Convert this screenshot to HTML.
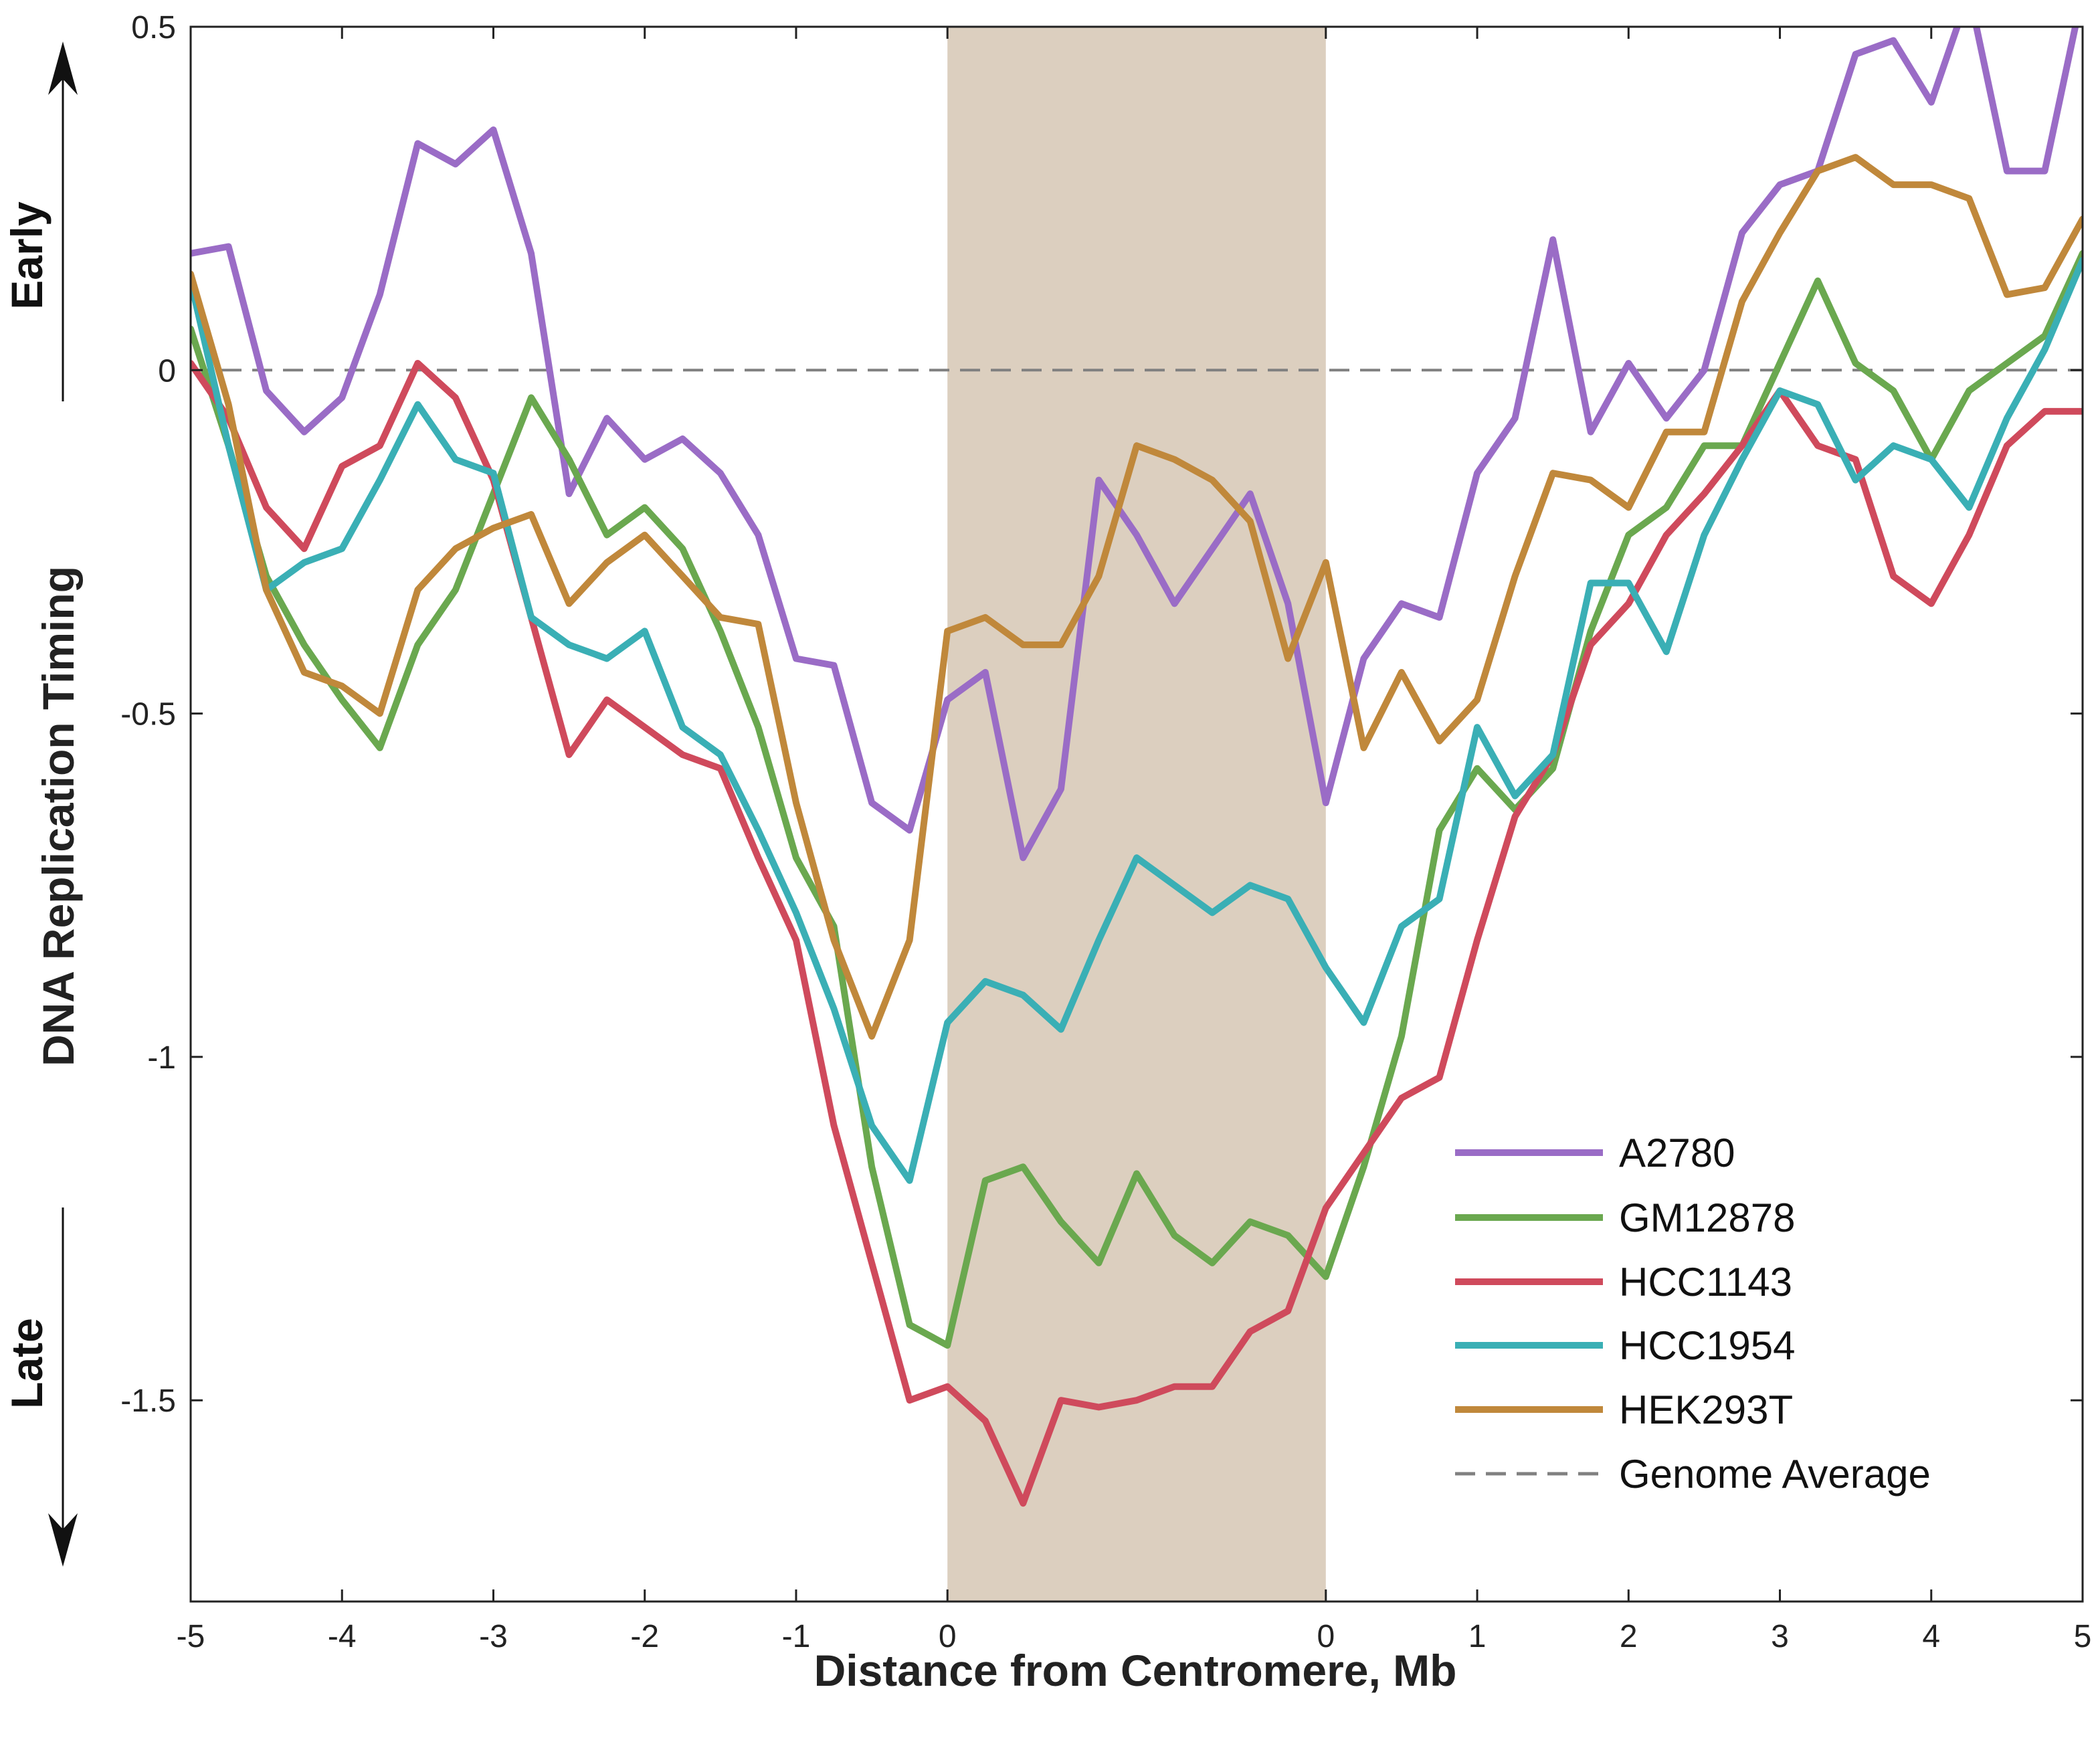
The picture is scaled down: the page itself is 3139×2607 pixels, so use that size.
<!DOCTYPE html>
<html><head><meta charset="utf-8"><style>
html,body{margin:0;padding:0;background:#fff}
svg{display:block;font-family:"Liberation Sans",sans-serif}
</style></head><body>
<svg id="chart" width="3139" height="2607" viewBox="0 0 3139 2607" xmlns="http://www.w3.org/2000/svg"></svg>
<script>
// positions along plot (units: Mb-like; 0..5 left arm, 5..7.5 centromere, 7.5..12.5 right arm)
const positions = [];
for (let i = 0; i <= 50; i++) positions.push(i * 0.25);
const xTickLabels = ["-5","-4","-3","-2","-1","0","0","1","2","3","4","5"];
const xTickPos = [0,1,2,3,4,5,7.5,8.5,9.5,10.5,11.5,12.5];
const yTicks = [0.5,0,-0.5,-1,-1.5];
const yTickLabels = ["0.5","0","-0.5","-1","-1.5"];
const seriesNames = ["A2780","GM12878","HCC1143","HCC1954","HEK293T"];
const a2780 = [0.17,0.18,-0.03,-0.09,-0.04,0.11,0.33,0.30,0.35,0.17,-0.18,-0.07,-0.13,-0.10,-0.15,-0.24,-0.42,-0.43,-0.63,-0.67,-0.48,-0.44,-0.71,-0.61,-0.16,-0.24,-0.34,-0.26,-0.18,-0.34,-0.63,-0.42,-0.34,-0.36,-0.15,-0.07,0.19,-0.09,0.01,-0.07,0.0,0.20,0.27,0.29,0.46,0.48,0.39,0.55,0.29,0.29,0.55];
const gm12878 = [0.06,-0.11,-0.30,-0.40,-0.48,-0.55,-0.40,-0.32,-0.18,-0.04,-0.13,-0.24,-0.20,-0.26,-0.38,-0.52,-0.71,-0.81,-1.16,-1.39,-1.42,-1.18,-1.16,-1.24,-1.30,-1.17,-1.26,-1.30,-1.24,-1.26,-1.32,-1.16,-0.97,-0.67,-0.58,-0.64,-0.58,-0.38,-0.24,-0.20,-0.11,-0.11,0.01,0.13,0.01,-0.03,-0.13,-0.03,0.01,0.05,0.17];
const hcc1143 = [0.01,-0.07,-0.20,-0.26,-0.14,-0.11,0.01,-0.04,-0.16,-0.36,-0.56,-0.48,-0.52,-0.56,-0.58,-0.71,-0.83,-1.10,-1.30,-1.50,-1.48,-1.53,-1.65,-1.50,-1.51,-1.50,-1.48,-1.48,-1.40,-1.37,-1.22,-1.14,-1.06,-1.03,-0.83,-0.65,-0.56,-0.40,-0.34,-0.24,-0.18,-0.11,-0.03,-0.11,-0.13,-0.30,-0.34,-0.24,-0.11,-0.06,-0.06];
const hcc1954 = [0.13,-0.11,-0.32,-0.28,-0.26,-0.16,-0.05,-0.13,-0.15,-0.36,-0.40,-0.42,-0.38,-0.52,-0.56,-0.67,-0.79,-0.93,-1.10,-1.18,-0.95,-0.89,-0.91,-0.96,-0.83,-0.71,-0.75,-0.79,-0.75,-0.77,-0.87,-0.95,-0.81,-0.77,-0.52,-0.62,-0.56,-0.31,-0.31,-0.41,-0.24,-0.13,-0.03,-0.05,-0.16,-0.11,-0.13,-0.20,-0.07,0.03,0.16];
const hek293t = [0.14,-0.05,-0.32,-0.44,-0.46,-0.50,-0.32,-0.26,-0.23,-0.21,-0.34,-0.28,-0.24,-0.30,-0.36,-0.37,-0.63,-0.83,-0.97,-0.83,-0.38,-0.36,-0.40,-0.40,-0.30,-0.11,-0.13,-0.16,-0.22,-0.42,-0.28,-0.55,-0.44,-0.54,-0.48,-0.30,-0.15,-0.16,-0.20,-0.09,-0.09,0.10,0.20,0.29,0.31,0.27,0.27,0.25,0.11,0.12,0.22];
const allSeries = [a2780,gm12878,hcc1143,hcc1954,hek293t];
const colors = ["#9a6cc6","#6aa84f","#cf4a5c","#3aafb5","#c0883b"];

const L=285,R=3113,T=40,B=2394;
const yMax=0.5,yMin=-1.793;
const sx = u => L + (u/12.5)*(R-L);
const sy = v => T + (yMax - v)/(yMax-yMin)*(B-T);
const NS="http://www.w3.org/2000/svg";
const svg=document.getElementById('chart');
function mk(tag,attrs,parent){const e=document.createElementNS(NS,tag);for(const k in attrs)e.setAttribute(k,attrs[k]);(parent||svg).appendChild(e);return e;}

const defs=mk('defs',{});
const cp=mk('clipPath',{id:'plotclip'},defs);
mk('rect',{x:L,y:T,width:R-L,height:B-T},cp);

const cen=mk('rect',{x:sx(5),y:T,width:sx(7.5)-sx(5),height:B-T,fill:"#dccfbf"});



const zl=mk('line',{x1:L,x2:R,y1:sy(0),y2:sy(0),stroke:"#808080","stroke-width":4,"stroke-dasharray":"30 16"});



const g=mk('g',{'clip-path':'url(#plotclip)'});
allSeries.forEach((vals,si)=>{
  const d=vals.map((v,i)=>(i?'L':'M')+sx(positions[i]).toFixed(1)+','+sy(v).toFixed(1)).join(' ');
  const p=mk('path',{d:d,fill:'none',stroke:colors[si],'stroke-width':10,'stroke-linejoin':'round','stroke-linecap':'round'},g);
  
  
});

const frame=mk('rect',{x:L,y:T,width:R-L,height:B-T,fill:'none',stroke:'#222','stroke-width':3});



xTickPos.forEach((u,i)=>{
  const x=sx(u);
  mk('line',{x1:x,x2:x,y1:B,y2:B-18,stroke:'#222','stroke-width':3});
  mk('line',{x1:x,x2:x,y1:T,y2:T+18,stroke:'#222','stroke-width':3});
  const t=mk('text',{x:x,y:B+68,'text-anchor':'middle','font-size':48,fill:'#222'});
  t.textContent=xTickLabels[i];
  
  
});
yTicks.forEach((v,i)=>{
  const y=sy(v);
  mk('line',{x1:L,x2:L+18,y1:y,y2:y,stroke:'#222','stroke-width':3});
  mk('line',{x1:R,x2:R-18,y1:y,y2:y,stroke:'#222','stroke-width':3});
  const t=mk('text',{x:L-22,y:y+17,'text-anchor':'end','font-size':48,fill:'#222'});
  t.textContent=yTickLabels[i];
  
  
});

const xt=mk('text',{x:1697,y:2520,'text-anchor':'middle','font-size':66,'font-weight':'bold',fill:'#222'});
xt.textContent='Distance from Centromere, Mb';


const yt=mk('text',{x:0,y:0,'text-anchor':'middle','font-size':66,'font-weight':'bold',fill:'#222',transform:'translate(110,1220) rotate(-90)'});
yt.textContent='DNA Replication Timing';



const et=mk('text',{x:0,y:0,'text-anchor':'middle','font-size':66,'font-weight':'bold',fill:'#111',transform:'translate(63,382) rotate(-90)'});
et.textContent='Early';


const lt=mk('text',{x:0,y:0,'text-anchor':'middle','font-size':66,'font-weight':'bold',fill:'#111',transform:'translate(63,2038) rotate(-90)'});
lt.textContent='Late';



const ua=mk('g',{});


mk('line',{x1:94,x2:94,y1:600,y2:80,stroke:'#111','stroke-width':3},ua);
mk('path',{d:'M94,62 L72,142 L94,118 L116,142 Z',fill:'#111'},ua);
const da=mk('g',{});


mk('line',{x1:94,x2:94,y1:1805,y2:2320,stroke:'#111','stroke-width':3},da);
mk('path',{d:'M94,2342 L72,2262 L94,2286 L116,2262 Z',fill:'#111'},da);

const legNames=seriesNames.concat(['Genome Average']);
const legColors=colors.concat(['#808080']);
const legY=[1723,1820,1916,2011,2107,2203];
legNames.forEach((n,i)=>{
  const lg=mk('g',{});
  
  
  const attrs={x1:2175,x2:2396,y1:legY[i],y2:legY[i],stroke:legColors[i],'stroke-width':i<5?10:5};
  if(i===5){attrs['stroke-dasharray']='30 16';}
  mk('line',attrs,lg);
  const t=mk('text',{x:2420,y:legY[i]+21,'font-size':60,fill:'#111'},lg);
  t.textContent=n;
});
</script>
</body></html>
